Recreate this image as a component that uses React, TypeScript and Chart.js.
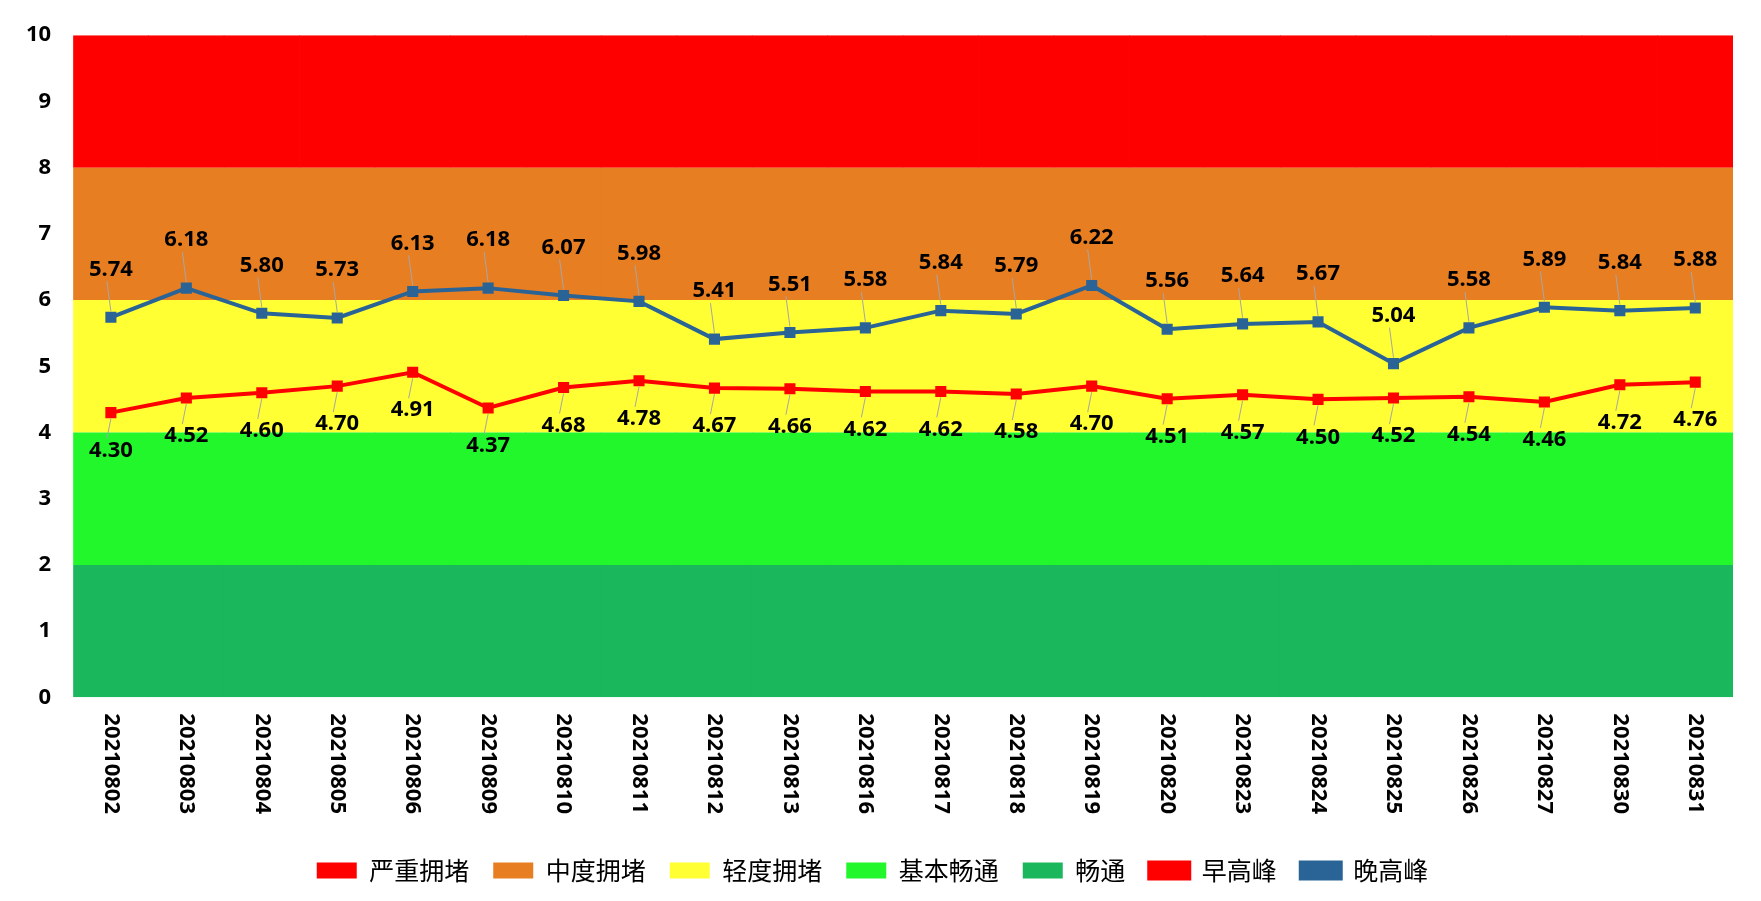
import React, { useEffect, useRef } from "react";
import { Chart, registerables } from "chart.js";
Chart.register(...registerables);

const categories = ["20210802","20210803","20210804","20210805","20210806","20210809","20210810","20210811","20210812","20210813","20210816","20210817","20210818","20210819","20210820","20210823","20210824","20210825","20210826","20210827","20210830","20210831"];
const morning = [4.30,4.52,4.60,4.70,4.91,4.37,4.68,4.78,4.67,4.66,4.62,4.62,4.58,4.70,4.51,4.57,4.50,4.52,4.54,4.46,4.72,4.76];
const evening = [5.74,6.18,5.80,5.73,6.13,6.18,6.07,5.98,5.41,5.51,5.58,5.84,5.79,6.22,5.56,5.64,5.67,5.04,5.58,5.89,5.84,5.88];
const bandNames = ["畅通","基本畅通","轻度拥堵","中度拥堵","严重拥堵"];
const bandColors = ["#1AB75C","#22F72C","#FFFF33","#E87E22","#FF0000"];
const bandSize = 2;
const FONT = "'Noto Sans', sans-serif";

const labelPlugin = {
  id: "pointLabels",
  afterDatasetsDraw(chart: any) {
    const ctx = chart.ctx;
    ctx.save();
    ctx.font = `bold 22px ${FONT}`;
    ctx.textAlign = "center";
    ctx.textBaseline = "middle";
    [5, 6].forEach((di) => {
      const meta = chart.getDatasetMeta(di);
      const data = chart.data.datasets[di].data;
      meta.data.forEach((pt: any, i: number) => {
        const up = di === 6;
        const ly = up ? pt.y - 48 : pt.y + 38;
        ctx.strokeStyle = "#A6A6A6";
        ctx.lineWidth = 1;
        ctx.beginPath();
        ctx.moveTo(pt.x, up ? pt.y - 6 : pt.y + 6);
        ctx.lineTo(pt.x - 4, up ? ly + 12 : ly - 12);
        ctx.stroke();
        ctx.fillStyle = "#000";
        ctx.fillText(Number(data[i]).toFixed(2), pt.x, ly);
      });
    });
    // x labels reading top-down
    const xs = chart.scales.x;
    const top = chart.chartArea.bottom + 16;
    ctx.font = `bold 22px ${FONT}`;
    ctx.textAlign = "left";
    categories.forEach((c, i) => {
      const x = xs.getPixelForValue(i);
      ctx.save();
      ctx.translate(x, top);
      ctx.rotate(Math.PI / 2);
      ctx.fillText(c, 0, 0);
      ctx.restore();
    });
    ctx.restore();
  },
};

export default function App() {
  const ref = useRef<HTMLCanvasElement>(null);
  useEffect(() => {
    const bands = bandNames.map((n, k) => ({
      type: "bar" as const,
      label: n,
      data: categories.map(() => bandSize),
      backgroundColor: bandColors[k],
      borderWidth: 0,
      barPercentage: 1.01,
      categoryPercentage: 1,
      stack: "bg",
      yAxisID: "yb",
      order: 10,
    }));
    const chart = new Chart(ref.current!, {
      data: {
        labels: categories,
        datasets: [
          ...bands,
          { type: "line", label: "早高峰", data: morning, yAxisID: "y", borderColor: "#FF0000", backgroundColor: "#FF0000", borderWidth: 4, pointStyle: "rect", pointRadius: 5, pointBackgroundColor: "#FF0000", order: 1 },
          { type: "line", label: "晚高峰", data: evening, yAxisID: "y", borderColor: "#2A6496", backgroundColor: "#2A6496", borderWidth: 4, pointStyle: "rect", pointRadius: 5, pointBackgroundColor: "#2A6496", order: 0 },
        ] as any,
      },
      options: {
        animation: false,
        responsive: false,
        layout: { padding: { right: 20, top: 14, left: 4 } },
        scales: {
          x: { stacked: true, grid: { display: false }, border: { display: false }, ticks: { minRotation: 90, maxRotation: 90, color: "rgba(0,0,0,0)", padding: 14, font: { size: 22, weight: "bold", family: FONT } } },
          y: { min: 0, max: 10, grid: { display: false }, border: { display: false }, ticks: { stepSize: 1, color: "#000", padding: 14, font: { size: 22, weight: "bold", family: FONT } } },
          yb: { stacked: true, min: 0, max: 10, display: false },
        },
        plugins: {
          tooltip: { enabled: false },
          legend: {
            position: "bottom",
            labels: {
              color: "#000",
              padding: 24,
              font: { size: 25, family: "'Noto Sans CJK SC', sans-serif" },
              boxWidth: 40, boxHeight: 16,
              sort: (a: any, b: any) => {
                const order = [4, 3, 2, 1, 0, 5, 6];
                return order.indexOf(a.datasetIndex) - order.indexOf(b.datasetIndex);
              },
            },
          },
        },
      },
      plugins: [labelPlugin],
    });
    return () => chart.destroy();
  }, []);
  return <canvas ref={ref} width={1745} height={885} style={{ display: "block" }} />;
}
